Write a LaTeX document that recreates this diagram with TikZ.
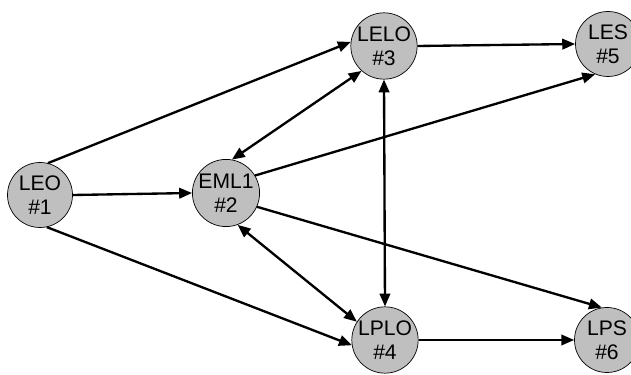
\documentclass[tikz,border=0pt]{standalone}
\usepackage{fontspec}
\setmainfont{Liberation Sans}
\usetikzlibrary{arrows.meta}
\begin{document}
\begin{tikzpicture}[x=0.03cm,y=-0.03cm,
  orbit/.style={circle,draw=black,line width=0.6pt,fill=black!25,
    minimum size=1.95cm,inner sep=0pt,align=center,
    font=\fontsize{18}{20.5}\selectfont},
  tip/.style={Triangle[length=11pt,width=9pt]},
  link/.style={line width=2pt,-{Triangle[length=11pt,width=9pt]}},
  both/.style={line width=2pt,{Triangle[length=11pt,width=9pt]}-{Triangle[length=11pt,width=9pt]}}]
  \useasboundingbox (0,0) rectangle (631,375);
  \clip (0,0) rectangle (631,375);
  % stations
  \node[orbit] (leo)  at (40,195)  {LEO\\\#1};
  \node[orbit] (eml)  at (226,193) {EML1\\\#2};
  \node[orbit] (lelo) at (384,46)  {LELO\\\#3};
  \node[orbit] (lplo) at (385,340) {LPLO\\\#4};
  \node[orbit] (les)  at (608,44)  {LES\\\#5};
  \node[orbit] (lps)  at (607,340) {LPS\\\#6};
  % transfers
  \draw[link] (leo.76) -- (lelo.173);
  \draw[link] (leo.east) -- (eml.west);
  \draw[link] (leo.-78) -- (lplo.189);
  \draw[both] (eml.80) -- (lelo.228);
  \draw[link] (eml.31) -- (les.247);
  \draw[link] (eml.-24) -- (lps.99);
  \draw[both] (eml.-70) -- (lplo.147);
  \draw[both] (lelo.south) -- (lplo.north);
  \draw[link] (lelo.east) -- (les.west);
  \draw[link] (lplo.east) -- (lps.west);
\end{tikzpicture}
\end{document}
